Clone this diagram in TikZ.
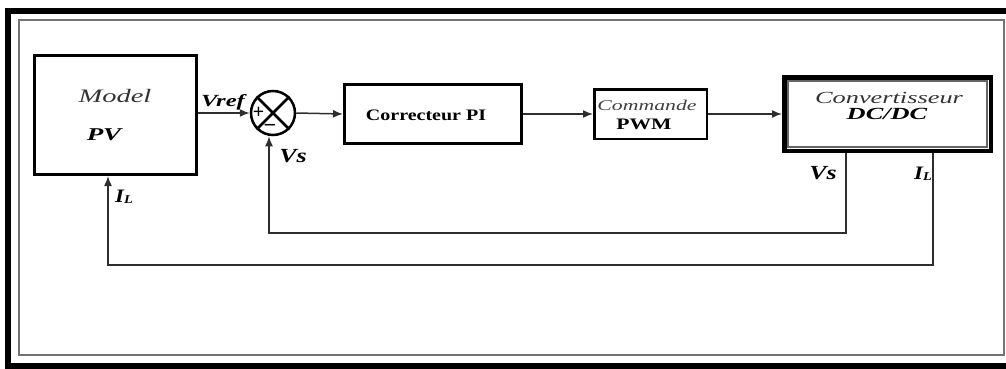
\documentclass[tikz,border=0pt]{standalone}
\usepackage{fontspec}
\setmainfont{Liberation Serif}
\usetikzlibrary{arrows.meta}
\newcommand{\hs}[2]{\scalebox{#1}[1]{#2}}
\newcommand{\subL}{\raisebox{-1pt}{\fontsize{12}{12}\selectfont L}}
\begin{document}
\begin{tikzpicture}[x=1pt,y=-1pt,
  box/.style={draw=black,line width=3pt,inner sep=0pt},
  conn/.style={draw=black!82,line width=1.5pt},
  arr/.style={conn,-{Latex[length=10pt,width=8pt]}},
  lbl/.style={inner sep=0pt,anchor=base},
]
\useasboundingbox (0,0) rectangle (1006,369);
% frame
\draw[line width=6pt] (7.5,11.5) rectangle (1015,366);
\draw[black!55,line width=1.5pt] (19,20) rectangle (1004,355);

% blocks
\node[box,minimum width=162,minimum height=119] (pv) at (115.5,115) {};
\node[circle,draw,line width=2.5pt,minimum size=44,inner sep=0pt] (s) at (273,113) {};
\draw[line width=2.5pt] (s.north west) -- (s.south east) (s.north east) -- (s.south west);
\node[box,minimum width=177,minimum height=59] (pi) at (433,114) {};
\node[box,line width=2.5pt,minimum width=112.5,minimum height=49.5] (pwm) at (650.5,114) {};
\node[box,line width=4.5pt,minimum width=206.5,minimum height=73.5] (conv) at (887.5,114) {};
\draw[black!60,line width=1.5pt] ([shift={(6,6)}]conv.north west) rectangle ([shift={(-6,-6)}]conv.south east);

% forward arrows
\draw[arr] (pv.east |- s.west) -- (s.west);
\draw[arr] (s.east) -- (pi.west);
\draw[arr] (pi.east) -- (pwm.west);
\draw[arr] (pwm.east) -- (conv.west);

% feedback
\coordinate (vsl) at (269,233);
\coordinate (ilb) at (108,265);
\draw[arr] ([xshift=-41.5]conv.south) |- (vsl) -- (vsl |- s.south);
\draw[arr] ([xshift=45.5]conv.south) |- (ilb) -- (ilb |- pv.south);

% labels
\node[lbl,text=black!80] (tmodel) at (115,102) {\fontsize{19}{19}\selectfont\itshape\hs{1.5}{Model}};
\node[lbl] (tpv) at (104,140) {\fontsize{18}{18}\selectfont\bfseries\itshape\hs{1.5}{PV}};
\node[lbl] (tvref) at (223,106) {\fontsize{17}{17}\selectfont\bfseries\itshape\hs{1.45}{Vref}};
\node[lbl] (tplus) at (258.5,118) {\fontsize{20}{20}\selectfont\bfseries +};
\node[lbl] (tminus) at (270,132) {\fontsize{22}{22}\selectfont\bfseries −};
\node[lbl] (tvs1) at (293,162) {\fontsize{20}{20}\selectfont\bfseries\itshape\hs{1.3}{Vs}};
\node[lbl,anchor=base west] (til1) at (115,202) {\fontsize{19}{19}\selectfont\bfseries\itshape\hs{1.2}{I\subL}};
\node[lbl] (tpi) at (426,120) {\fontsize{16}{16}\selectfont\bfseries\hs{1.25}{Correcteur PI}};
\node[lbl,text=black!75] (tcmd) at (647,110) {\fontsize{15}{15}\selectfont\itshape\hs{1.45}{Commande}};
\node[lbl] (tpwm) at (644,129) {\fontsize{16}{16}\selectfont\bfseries\hs{1.35}{PWM}};
\node[lbl,text=black!80] (tconv) at (889,103) {\fontsize{17}{17}\selectfont\itshape\hs{1.55}{Convertisseur}};
\node[lbl] (tdc) at (887,119) {\fontsize{17}{17}\selectfont\bfseries\itshape\hs{1.55}{DC/DC}};
\node[lbl] (tvs2) at (823,179) {\fontsize{20}{20}\selectfont\bfseries\itshape\hs{1.3}{Vs}};
\node[lbl,anchor=base west] (til2) at (914,179) {\fontsize{19}{19}\selectfont\bfseries\itshape\hs{1.2}{I\subL}};
\end{tikzpicture}
\end{document}
